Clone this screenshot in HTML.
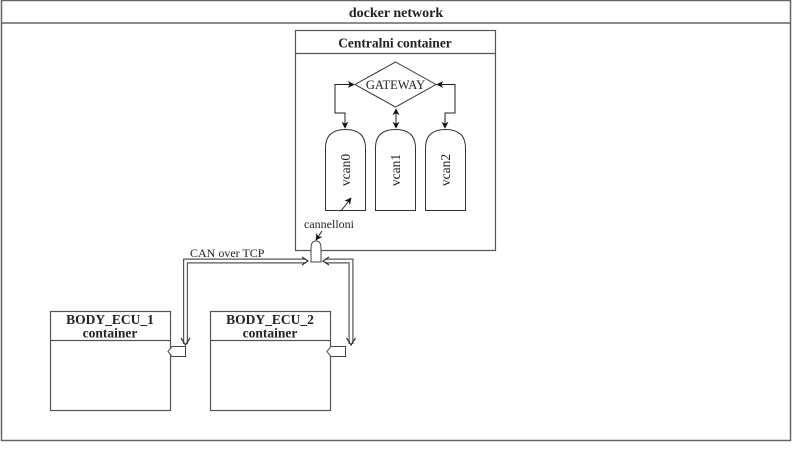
<!DOCTYPE html>
<html><head><meta charset="utf-8"><style>
html,body{margin:0;padding:0;background:#fff;}
svg{display:block;}
text{font-family:"Liberation Serif","DejaVu Serif",serif;fill:#222;}
</style></head><body>
<svg width="802" height="452" viewBox="0 0 802 452" xmlns="http://www.w3.org/2000/svg">
<defs>
<marker id="ar" viewBox="0 0 10 10" refX="9" refY="5" markerWidth="7" markerHeight="7" orient="auto-start-reverse"><path d="M0,0 L10,5 L0,10 L3,5 Z" fill="#111"/></marker>
</defs>
<rect x="1.5" y="0.5" width="789" height="440" fill="#fff" stroke="#666" stroke-width="1.5"/>
<line x1="1.5" y1="23" x2="790.5" y2="23" stroke="#666" stroke-width="1.5"/>
<text x="396" y="17" font-size="14" font-weight="bold" text-anchor="middle">docker network</text>

<rect x="295.5" y="30.5" width="200" height="220" fill="#fff" stroke="#555" stroke-width="1.2"/>
<line x1="295.5" y1="53.5" x2="495.5" y2="53.5" stroke="#555" stroke-width="1.2"/>
<text x="395" y="47.5" font-size="13.5" font-weight="bold" text-anchor="middle">Centralni container</text>

<polygon points="395.5,62 436,84.5 395.5,107 355,84.5" fill="#fff" stroke="#333" stroke-width="1"/>
<text x="395.5" y="89" font-size="12.5" text-anchor="middle">GATEWAY</text>

<path d="M345,128 L345,113 L335,113 L335,84.5 L354,84.5" fill="none" stroke="#222" stroke-width="1" marker-start="url(#ar)" marker-end="url(#ar)"/>
<path d="M445,128 L445,113 L455,113 L455,84.5 L437,84.5" fill="none" stroke="#222" stroke-width="1" marker-start="url(#ar)" marker-end="url(#ar)"/>
<path d="M396,128 L396,109" fill="none" stroke="#222" stroke-width="1" marker-start="url(#ar)" marker-end="url(#ar)"/>

<g fill="#fff" stroke="#333" stroke-width="1">
<path d="M325.5,210.5 L325.5,148 Q325.5,129.5 345.5,129.5 Q365.5,129.5 365.5,148 L365.5,210.5 Z"/>
<path d="M375.5,210.5 L375.5,148 Q375.5,129.5 395.5,129.5 Q415.5,129.5 415.5,148 L415.5,210.5 Z"/>
<path d="M425.5,210.5 L425.5,148 Q425.5,129.5 445.5,129.5 Q465.5,129.5 465.5,148 L465.5,210.5 Z"/>
</g>
<text transform="translate(350,170) rotate(-90)" font-size="13.5" text-anchor="middle">vcan0</text>
<text transform="translate(400,170) rotate(-90)" font-size="13.5" text-anchor="middle">vcan1</text>
<text transform="translate(450,170) rotate(-90)" font-size="13.5" text-anchor="middle">vcan2</text>

<line x1="341" y1="211" x2="351" y2="198" stroke="#222" stroke-width="1" marker-end="url(#ar)"/>
<rect x="298" y="218" width="62" height="13" fill="#fff"/>
<text x="329" y="228" font-size="12" text-anchor="middle">cannelloni</text>
<line x1="322" y1="231" x2="316" y2="240" stroke="#222" stroke-width="1" marker-end="url(#ar)"/>

<g fill="none" stroke-linejoin="miter">
<path d="M306,261 L185.5,261 L185.5,344" stroke="#555" stroke-width="5"/>
<path d="M306,261 L185.5,261 L185.5,344" stroke="#fff" stroke-width="2.6"/>
<path d="M325,261 L351,261 L351,344" stroke="#555" stroke-width="5"/>
<path d="M325,261 L351,261 L351,344" stroke="#fff" stroke-width="2.6"/>
</g>
<path d="M302,257 L308,261 L302,265" fill="none" stroke="#333" stroke-width="1.2"/>
<path d="M329,257 L323,261 L329,265" fill="none" stroke="#333" stroke-width="1.2"/>
<path d="M181,338 L185.5,345 L190,338" fill="none" stroke="#333" stroke-width="1.2"/>
<path d="M346.5,338 L351,345 L355.5,338" fill="none" stroke="#333" stroke-width="1.2"/>
<path d="M311,262 L311,248 Q311,241 316,241 Q321,241 321,248 L321,262 Z" fill="#fff" stroke="#444" stroke-width="1"/>
<text x="190" y="257" font-size="12">CAN over TCP</text>

<rect x="50.5" y="311.5" width="120" height="99" fill="#fff" stroke="#555" stroke-width="1.2"/>
<line x1="50.5" y1="340.5" x2="170.5" y2="340.5" stroke="#555" stroke-width="1.2"/>
<text x="110" y="324" font-size="13.5" font-weight="bold" text-anchor="middle">BODY_ECU_1</text>
<text x="110" y="337.5" font-size="13.5" font-weight="bold" text-anchor="middle">container</text>
<path d="M172,346.5 L185.5,346.5 L185.5,356.5 L172,356.5 L168,351.5 Z" fill="#fff" stroke="#444" stroke-width="1"/>

<rect x="210.5" y="311.5" width="120" height="99" fill="#fff" stroke="#555" stroke-width="1.2"/>
<line x1="210.5" y1="340.5" x2="330.5" y2="340.5" stroke="#555" stroke-width="1.2"/>
<text x="270" y="324" font-size="13.5" font-weight="bold" text-anchor="middle">BODY_ECU_2</text>
<text x="270" y="337.5" font-size="13.5" font-weight="bold" text-anchor="middle">container</text>
<path d="M331,346.5 L345.5,346.5 L345.5,356.5 L331,356.5 L327,351.5 Z" fill="#fff" stroke="#444" stroke-width="1"/>
</svg>
</body></html>
